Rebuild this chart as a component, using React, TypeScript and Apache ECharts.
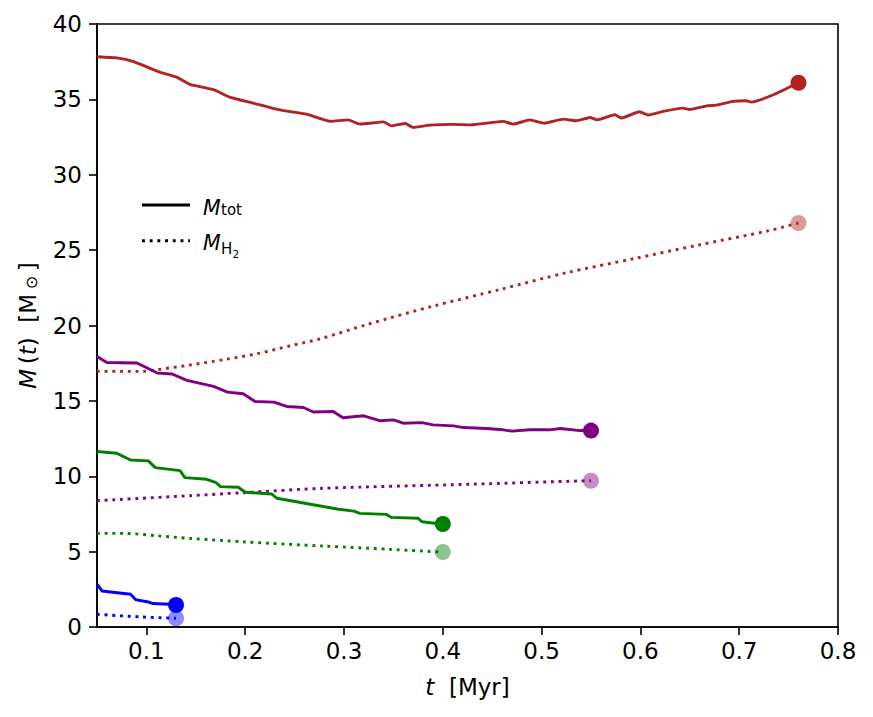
import React, { useEffect, useRef } from "react";
import * as echarts from "echarts";

// ---- data (t in Myr, M in solar masses) ----
const redTotT = [0.05, 0.07, 0.087, 0.114, 0.131, 0.144, 0.168, 0.185, 0.208, 0.235, 0.262, 0.286, 0.304, 0.316, 0.34, 0.348, 0.362, 0.37, 0.387, 0.411, 0.428, 0.461, 0.471, 0.488, 0.503, 0.522, 0.535, 0.549, 0.556, 0.574, 0.581, 0.599, 0.608, 0.623, 0.643, 0.65, 0.667, 0.677, 0.694, 0.707, 0.712, 0.734, 0.76];
const redTotM = [37.83, 37.75, 37.5, 36.8, 36.46, 36.0, 35.64, 35.13, 34.75, 34.3, 34.02, 33.54, 33.64, 33.36, 33.51, 33.24, 33.4, 33.14, 33.29, 33.34, 33.31, 33.54, 33.36, 33.64, 33.42, 33.69, 33.58, 33.8, 33.64, 33.98, 33.76, 34.18, 33.96, 34.2, 34.42, 34.33, 34.57, 34.62, 34.87, 34.91, 34.82, 35.29, 36.1];
const redH2T = [0.05, 0.097, 0.111, 0.144, 0.178, 0.212, 0.246, 0.276, 0.323, 0.39, 0.458, 0.525, 0.593, 0.658, 0.728, 0.76];
const redH2M = [16.96, 16.96, 17.07, 17.38, 17.73, 18.13, 18.66, 19.12, 20.06, 21.28, 22.39, 23.5, 24.43, 25.33, 26.26, 26.8];

const purTotT = [0.05, 0.06, 0.0905, 0.111, 0.126, 0.141, 0.168, 0.182, 0.198, 0.21, 0.229, 0.242, 0.259, 0.269, 0.289, 0.299, 0.32, 0.337, 0.35, 0.36, 0.379, 0.39, 0.411, 0.421, 0.444, 0.461, 0.47, 0.488, 0.508, 0.519, 0.539, 0.55];
const purTotM = [17.95, 17.55, 17.51, 16.85, 16.78, 16.36, 15.96, 15.58, 15.47, 14.96, 14.92, 14.63, 14.56, 14.26, 14.3, 13.88, 14.01, 13.68, 13.74, 13.52, 13.56, 13.41, 13.34, 13.23, 13.17, 13.08, 12.99, 13.08, 13.08, 13.17, 13.03, 13.03];
const purH2T = [0.05, 0.144, 0.198, 0.279, 0.428, 0.539, 0.55];
const purH2M = [8.38, 8.71, 8.91, 9.2, 9.47, 9.69, 9.7];

const grnTotT = [0.05, 0.07, 0.077, 0.084, 0.102, 0.109, 0.134, 0.139, 0.161, 0.17, 0.175, 0.193, 0.2, 0.227, 0.232, 0.252, 0.266, 0.293, 0.31, 0.316, 0.343, 0.348, 0.375, 0.379, 0.394, 0.4];
const grnTotM = [11.64, 11.53, 11.3, 11.08, 11.02, 10.57, 10.37, 9.91, 9.8, 9.6, 9.31, 9.27, 8.94, 8.82, 8.54, 8.31, 8.14, 7.83, 7.69, 7.54, 7.47, 7.27, 7.21, 6.98, 6.87, 6.83];
const grnH2T = [0.05, 0.077, 0.111, 0.144, 0.198, 0.279, 0.347, 0.4];
const grnH2M = [6.21, 6.21, 6.05, 5.88, 5.65, 5.37, 5.15, 4.97];

const bluTotT = [0.05, 0.055, 0.084, 0.089, 0.102, 0.106, 0.124, 0.13];
const bluTotM = [2.84, 2.39, 2.17, 1.82, 1.66, 1.56, 1.51, 1.46];
const bluH2T = [0.05, 0.094, 0.13];
const bluH2M = [0.84, 0.67, 0.58];

const xTicks = [0.1, 0.2, 0.3, 0.4, 0.5, 0.6, 0.7, 0.8];

const FONT = "'DejaVu Sans', sans-serif";
const FS = 23;
const LW = 2.9;
const DOT = [2.9, 4.8];

const zip = (a: number[], b: number[]) => a.map((v, i) => [v, b[i]]);

export default function App() {
  const ref = useRef<HTMLDivElement>(null);
  useEffect(() => {
    if (!ref.current) return;
    const chart = echarts.init(ref.current, undefined, { renderer: "svg" });
    const groups = [
      { c: "#b22222", tot: zip(redTotT, redTotM), h2: zip(redH2T, redH2M), smooth: 0.15 },
      { c: "#800080", tot: zip(purTotT, purTotM), h2: zip(purH2T, purH2M), smooth: 0 },
      { c: "#008000", tot: zip(grnTotT, grnTotM), h2: zip(grnH2T, grnH2M), smooth: 0 },
      { c: "#0000ff", tot: zip(bluTotT, bluTotM), h2: zip(bluH2T, bluH2M), smooth: 0 },
    ];
    const series: any[] = [];
    groups.forEach((g) => {
      series.push({
        type: "line", data: g.tot, showSymbol: false, smooth: g.smooth, z: 3,
        lineStyle: { color: g.c, width: LW }, clip: true,
      });
      series.push({
        type: "line", data: g.h2, showSymbol: false, smooth: 0.3, z: 3,
        lineStyle: { color: g.c, width: LW, type: DOT, cap: "butt" }, clip: true,
      });
      series.push({
        type: "scatter", data: [g.tot[g.tot.length - 1]], symbolSize: 16, z: 4,
        itemStyle: { color: g.c, opacity: 1 },
      });
      series.push({
        type: "scatter", data: [g.h2[g.h2.length - 1]], symbolSize: 16, z: 4,
        itemStyle: { color: g.c, opacity: 0.45 },
      });
    });

    const txt = (x: number, y: number, text: string, size: number, italic: boolean) => ({
      type: "text", x, y,
      style: { text, fontFamily: FONT, fontSize: size, fontStyle: italic ? "italic" : "normal", fill: "#000", verticalAlign: "middle" },
    });

    chart.setOption({
      animation: false,
      backgroundColor: "#fff",
      grid: { left: 97, right: 35, top: 24, bottom: 90, show: true, borderColor: "#000", borderWidth: 1.6 },
      xAxis: {
        type: "value", min: 0.05, max: 0.8,
        axisLine: { show: true, lineStyle: { color: "#000", width: 1.6 } },
        axisTick: { show: true, inside: false, length: 8, lineStyle: { color: "#000", width: 1.6 }, customValues: xTicks },
        axisLabel: { color: "#000", fontFamily: FONT, fontSize: FS, margin: 12, customValues: xTicks, formatter: (v: number) => v.toFixed(1) },
        splitLine: { show: false },
        name: "{i|t}  [Myr]", nameLocation: "middle", nameGap: 48,
        nameTextStyle: { color: "#000", fontFamily: FONT, fontSize: FS, rich: { i: { fontStyle: "italic", fontFamily: FONT, fontSize: FS } } },
      },
      yAxis: {
        type: "value", min: 0, max: 40, interval: 5,
        axisLine: { show: true, lineStyle: { color: "#000", width: 1.6 } },
        axisTick: { show: true, inside: false, length: 8, lineStyle: { color: "#000", width: 1.6 } },
        axisLabel: { color: "#000", fontFamily: FONT, fontSize: FS, margin: 15 },
        splitLine: { show: false },
        name: "{i|M}\u2009({i|t})  [M\u2009{s|⊙}\u2009]", nameLocation: "middle", nameGap: 58, nameRotate: 90,
        nameTextStyle: {
          color: "#000", fontFamily: FONT, fontSize: FS,
          rich: {
            i: { fontStyle: "italic", fontFamily: FONT, fontSize: FS },
            s: { fontFamily: FONT, fontSize: 16, verticalAlign: "bottom", padding: [7, 0, 0, 0] },
          },
        },
      },
      series,
      graphic: [
        { type: "line", shape: { x1: 142, y1: 205, x2: 190, y2: 205 }, style: { stroke: "#000", lineWidth: LW } },
        { type: "line", shape: { x1: 142, y1: 240.7, x2: 190, y2: 240.7 }, style: { stroke: "#000", lineWidth: LW, lineDash: DOT } },
        txt(203, 207.5, "M", 20.5, true),
        txt(221, 210, "tot", 15, false),
        txt(203, 242.5, "M", 20.5, true),
        txt(221, 249, "H", 15, false),
        txt(232.5, 253.5, "2", 10.5, false),
      ],
    });
    return () => chart.dispose();
  }, []);
  return <div ref={ref} style={{ position: "fixed", left: 0, top: 0, width: 873, height: 717, background: "#fff" }} />;
}
